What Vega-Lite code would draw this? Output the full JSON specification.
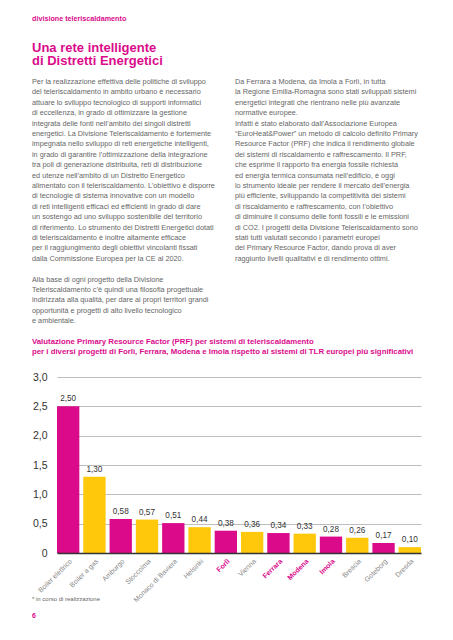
{
  "$schema": "https://vega.github.io/schema/vega-lite/v6.json",
  "background": "white",
  "padding": {"left": 32, "top": 15, "right": 30, "bottom": 16},
  "bounds": "flush",
  "spacing": 0,
  "config": {
    "font": "Liberation Sans",
    "view": {"stroke": null},
    "locale": {"number": {"decimal": ",", "thousands": ".", "grouping": [3], "currency": ["", " €"]}}
  },
  "datasets": {
    "body": [
      {"col": "L", "line": 1, "text": "Per la realizzazione effettiva delle politiche di sviluppo"},
      {"col": "L", "line": 2, "text": "del teleriscaldamento in ambito urbano è necessario"},
      {"col": "L", "line": 3, "text": "attuare lo sviluppo tecnologico di supporti informatici"},
      {"col": "L", "line": 4, "text": "di eccellenza, in grado di ottimizzare la gestione"},
      {"col": "L", "line": 5, "text": "integrata delle fonti nell’ambito dei singoli distretti"},
      {"col": "L", "line": 6, "text": "energetici. La Divisione Teleriscaldamento è fortemente"},
      {"col": "L", "line": 7, "text": "impegnata nello sviluppo di reti energetiche intelligenti,"},
      {"col": "L", "line": 8, "text": "in grado di garantire l’ottimizzazione della integrazione"},
      {"col": "L", "line": 9, "text": "tra poli di generazione distribuita, reti di distribuzione"},
      {"col": "L", "line": 10, "text": "ed utenze nell’ambito di un Distretto Energetico"},
      {"col": "L", "line": 11, "text": "alimentato con il teleriscaldamento. L’obiettivo è disporre"},
      {"col": "L", "line": 12, "text": "di tecnologie di sistema innovative con un modello"},
      {"col": "L", "line": 13, "text": "di reti intelligenti efficaci ed efficienti in grado di dare"},
      {"col": "L", "line": 14, "text": "un sostengo ad uno sviluppo sostenibile del territorio"},
      {"col": "L", "line": 15, "text": "di riferimento. Lo strumento dei Distretti Energetici dotati"},
      {"col": "L", "line": 16, "text": "di teleriscaldamento è inoltre altamente efficace"},
      {"col": "L", "line": 17, "text": "per il raggiungimento degli obiettivi vincolanti fissati"},
      {"col": "L", "line": 18, "text": "dalla Commissione Europea per la CE al 2020."},
      {"col": "L", "line": 20, "text": "Alla base di ogni progetto della Divisione"},
      {"col": "L", "line": 21, "text": "Teleriscaldamento c’è quindi una filosofia progettuale"},
      {"col": "L", "line": 22, "text": "indirizzata alla qualità, per dare ai propri territori grandi"},
      {"col": "L", "line": 23, "text": "opportunità e progetti di alto livello tecnologico"},
      {"col": "L", "line": 24, "text": "e ambientale."},
      {"col": "R", "line": 1, "text": "Da Ferrara a Modena, da Imola a Forlì, in tutta"},
      {"col": "R", "line": 2, "text": "la Regione Emilia-Romagna sono stati sviluppati sistemi"},
      {"col": "R", "line": 3, "text": "energetici integrati che rientrano nelle più avanzate"},
      {"col": "R", "line": 4, "text": "normative europee."},
      {"col": "R", "line": 5, "text": "Infatti è stato elaborato dall’Associazione Europea"},
      {"col": "R", "line": 6, "text": "“EuroHeat&Power” un metodo di calcolo definito Primary"},
      {"col": "R", "line": 7, "text": "Resource Factor (PRF) che indica il rendimento globale"},
      {"col": "R", "line": 8, "text": "dei sistemi di riscaldamento e raffrescamento. Il PRF,"},
      {"col": "R", "line": 9, "text": "che esprime il rapporto fra energia fossile richiesta"},
      {"col": "R", "line": 10, "text": "ed energia termica consumata nell’edificio, è oggi"},
      {"col": "R", "line": 11, "text": "lo strumento ideale per rendere il mercato dell’energia"},
      {"col": "R", "line": 12, "text": "più efficiente, sviluppando la competitività dei sistemi"},
      {"col": "R", "line": 13, "text": "di riscaldamento e raffrescamento, con l’obiettivo"},
      {"col": "R", "line": 14, "text": "di diminuire il consumo delle fonti fossili e le emissioni"},
      {"col": "R", "line": 15, "text": "di CO2.  I progetti della Divisione Teleriscaldamento sono"},
      {"col": "R", "line": 16, "text": "stati tutti valutati secondo i parametri europei"},
      {"col": "R", "line": 17, "text": "del Primary Resource Factor, dando prova di aver"},
      {"col": "R", "line": 18, "text": "raggiunto livelli qualitativi e di rendimento ottimi."}
    ],
    "caption": [
      {"col": "L", "line": 26, "text": "Valutazione Primary Resource Factor (PRF) per sistemi di teleriscaldamento"},
      {"col": "L", "line": 27, "text": "per i diversi progetti di Forlì, Ferrara, Modena e Imola rispetto ai sistemi di TLR europei più significativi"}
    ],
    "bars": [
      {"city": "Boiler elettrico", "value": 2.50},
      {"city": "Boiler a gas", "value": 1.30},
      {"city": "Amburgo", "value": 0.58},
      {"city": "Stoccolma", "value": 0.57},
      {"city": "Monaco di Baviera", "value": 0.51},
      {"city": "Helsinki", "value": 0.44},
      {"city": "Forlì", "value": 0.38},
      {"city": "Vienna", "value": 0.36},
      {"city": "Ferrara", "value": 0.34},
      {"city": "Modena", "value": 0.33},
      {"city": "Imola", "value": 0.28},
      {"city": "Brescia", "value": 0.26},
      {"city": "Goteborg", "value": 0.17},
      {"city": "Dresda", "value": 0.10}
    ],
    "notes": [
      {"col": "L", "line": 1, "text": "* in corso di realizzazione"}
    ],
    "page": [
      {"col": "L", "line": 2, "text": "6"}
    ]
  },
  "vconcat": [
    {
      "width": 364,
      "height": 299,
      "title": {
        "text": "divisione teleriscaldamento",
        "subtitle": ["Una rete intelligente", "di Distretti Energetici"],
        "anchor": "start",
        "frame": "group",
        "dx": -25,
        "offset": 10,
        "font": "Liberation Sans",
        "fontSize": 7.2,
        "fontWeight": "bold",
        "color": "#DA0A8B",
        "subtitleFont": "Liberation Sans",
        "subtitleFontSize": 13,
        "subtitleFontWeight": "bold",
        "subtitleColor": "#DA0A8B",
        "subtitlePadding": 19,
        "subtitleLineHeight": 13.5
      },
      "encoding": {
        "x": {"field": "col", "type": "nominal", "scale": {"type": "point", "domain": ["L", "R"], "range": [-25, 178], "padding": 0}, "axis": null},
        "y": {"field": "line", "type": "quantitative", "scale": {"domain": [1, 27], "range": [4, 274.4], "nice": false, "zero": false}, "axis": null},
        "text": {"field": "text"}
      },
      "layer": [
        {
          "data": {"name": "body"},
          "mark": {"type": "text", "align": "left", "baseline": "middle", "fontSize": 7.3, "color": "#666666"}
        },
        {
          "data": {"name": "caption"},
          "mark": {"type": "text", "align": "left", "baseline": "middle", "fontSize": 7.8, "fontWeight": "bold", "color": "#DA0A8B"}
        }
      ]
    },
    {
      "width": 364,
      "height": 176,
      "data": {"name": "bars"},
      "encoding": {
        "x": {
          "field": "city", "type": "nominal", "sort": null,
          "scale": {"paddingInner": 0.15, "paddingOuter": 0},
          "axis": {
            "title": null,
            "labelAngle": -45,
            "labelFontSize": 7,
            "labelPadding": 4,
            "labelColor": {"condition": {"test": "indexof(['Forlì','Ferrara','Modena','Imola'], datum.value) >= 0", "value": "#DA0A8B"}, "value": "#888888"},
            "labelFontWeight": {"condition": {"test": "indexof(['Forlì','Ferrara','Modena','Imola'], datum.value) >= 0", "value": "bold"}, "value": "normal"},
            "ticks": false,
            "domainColor": "#333333",
            "domainWidth": 1.5,
            "zindex": 1
          }
        },
        "y": {
          "field": "value", "type": "quantitative",
          "scale": {"domain": [0, 3], "nice": false},
          "axis": {
            "title": null,
            "values": [0, 0.5, 1, 1.5, 2, 2.5, 3],
            "tickCount": 7,
            "format": ".1f",
            "labelExpr": "datum.value == 0 ? '0' : datum.label",
            "labelOverlap": false,
            "domain": false,
            "ticks": false,
            "grid": true,
            "labelPadding": 10,
            "labelFontSize": 10.5,
            "labelColor": "#333333",
            "gridColor": "#bdbdbd",
            "gridWidth": 1
          }
        }
      },
      "layer": [
        {
          "mark": {"type": "bar"},
          "encoding": {
            "color": {
              "field": "city", "type": "nominal", "sort": null, "legend": null,
              "scale": {
                "domain": ["Boiler elettrico", "Boiler a gas", "Amburgo", "Stoccolma", "Monaco di Baviera", "Helsinki", "Forlì", "Vienna", "Ferrara", "Modena", "Imola", "Brescia", "Goteborg", "Dresda"],
                "range": ["#DA0A8B", "#FFC80A", "#DA0A8B", "#FFC80A", "#DA0A8B", "#FFC80A", "#DA0A8B", "#FFC80A", "#DA0A8B", "#FFC80A", "#DA0A8B", "#FFC80A", "#DA0A8B", "#FFC80A"]
              }
            }
          }
        },
        {
          "mark": {"type": "text", "baseline": "bottom", "dy": -3, "fontSize": 8.2, "color": "#333333"},
          "encoding": {
            "text": {"field": "value", "type": "quantitative", "format": ".2f"}
          }
        }
      ]
    },
    {
      "width": 364,
      "height": 70,
      "encoding": {
        "x": {"field": "col", "type": "nominal", "scale": {"type": "point", "domain": ["L", "R"], "range": [-25, 178], "padding": 0}, "axis": null},
        "y": {"field": "line", "type": "quantitative", "scale": {"domain": [1, 2], "range": [46, 63], "nice": false, "zero": false}, "axis": null},
        "text": {"field": "text"}
      },
      "layer": [
        {
          "data": {"name": "notes"},
          "mark": {"type": "text", "align": "left", "baseline": "middle", "fontSize": 6, "color": "#666666"}
        },
        {
          "data": {"name": "page"},
          "mark": {"type": "text", "align": "left", "baseline": "middle", "fontSize": 7, "fontWeight": "bold", "color": "#DA0A8B"}
        }
      ]
    }
  ]
}
